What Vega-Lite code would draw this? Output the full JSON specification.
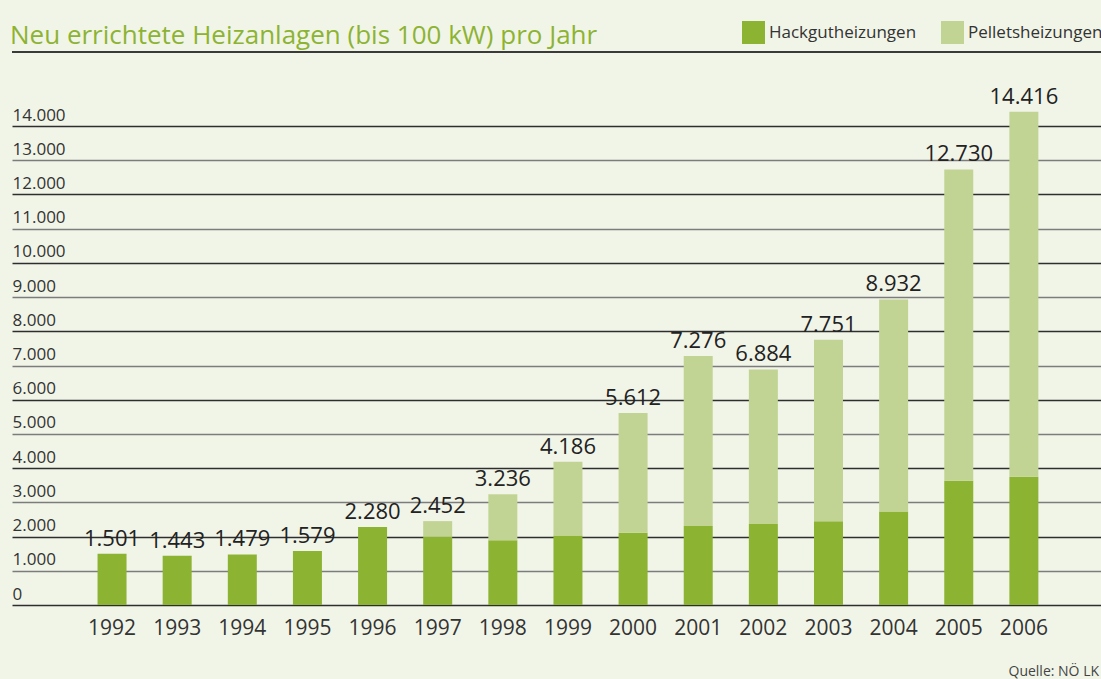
{
  "$schema": "https://vega.github.io/schema/vega-lite/v6.json",
  "autosize": {"type": "none"},
  "width": 1089,
  "height": 479,
  "padding": {"left": 12, "top": 126, "right": 0, "bottom": 74},
  "background": "#f1f5e8",
  "config": {
    "locale": {"number": {"decimal": ",", "thousands": ".", "grouping": [3], "currency": ["", " €"]}},
    "view": {"stroke": null},
    "font": "Open Sans"
  },
  "title": {
    "text": "Neu errichtete Heizanlagen (bis 100 kW) pro Jahr",
    "anchor": "start",
    "frame": "group",
    "font": "Open Sans",
    "fontSize": 26,
    "fontWeight": "normal",
    "color": "#8db333",
    "dx": -2,
    "dy": 38,
    "offset": 10
  },
  "resolve": {"scale": {"y": "shared"}, "axis": {"y": "independent"}},
  "data": {
    "values": [
      {"year": "1992", "type": "Hackgutheizungen", "value": 1501},
      {"year": "1993", "type": "Hackgutheizungen", "value": 1443},
      {"year": "1994", "type": "Hackgutheizungen", "value": 1479},
      {"year": "1995", "type": "Hackgutheizungen", "value": 1579},
      {"year": "1996", "type": "Hackgutheizungen", "value": 2280},
      {"year": "1997", "type": "Hackgutheizungen", "value": 2000},
      {"year": "1997", "type": "Pelletsheizungen", "value": 452},
      {"year": "1998", "type": "Hackgutheizungen", "value": 1890},
      {"year": "1998", "type": "Pelletsheizungen", "value": 1346},
      {"year": "1999", "type": "Hackgutheizungen", "value": 2030},
      {"year": "1999", "type": "Pelletsheizungen", "value": 2156},
      {"year": "2000", "type": "Hackgutheizungen", "value": 2110},
      {"year": "2000", "type": "Pelletsheizungen", "value": 3502},
      {"year": "2001", "type": "Hackgutheizungen", "value": 2310},
      {"year": "2001", "type": "Pelletsheizungen", "value": 4966},
      {"year": "2002", "type": "Hackgutheizungen", "value": 2370},
      {"year": "2002", "type": "Pelletsheizungen", "value": 4514},
      {"year": "2003", "type": "Hackgutheizungen", "value": 2450},
      {"year": "2003", "type": "Pelletsheizungen", "value": 5301},
      {"year": "2004", "type": "Hackgutheizungen", "value": 2730},
      {"year": "2004", "type": "Pelletsheizungen", "value": 6202},
      {"year": "2005", "type": "Hackgutheizungen", "value": 3630},
      {"year": "2005", "type": "Pelletsheizungen", "value": 9100},
      {"year": "2006", "type": "Hackgutheizungen", "value": 3750},
      {"year": "2006", "type": "Pelletsheizungen", "value": 10666}
    ]
  },
  "encoding": {
    "x": {
      "field": "year",
      "type": "ordinal",
      "scale": {"paddingInner": 0.28, "paddingOuter": 1, "align": 0.588},
      "axis": {
        "title": "Quelle: NÖ LK",
        "titleX": 996,
        "titleY": 70,
        "titleAlign": "left",
        "titleAnchor": null,
        "titleBaseline": "alphabetic",
        "titleFontSize": 14,
        "titleFontWeight": "normal",
        "titleColor": "#444444",
        "titleFont": "Open Sans",
        "labelFontSize": 21,
        "labelFont": "Open Sans",
        "labelColor": "#333333",
        "labelAngle": 0,
        "labelPadding": 12,
        "domain": false,
        "ticks": false,
        "grid": false
      }
    }
  },
  "layer": [
    {
      "mark": {"type": "rule", "color": "#3a3a3a", "strokeWidth": 1.5},
      "encoding": {"y": {"datum": 16170, "type": "quantitative", "axis": null}, "x": null}
    },
    {
      "mark": {"type": "bar", "width": 29},
      "encoding": {
        "y": {
          "field": "value",
          "type": "quantitative",
          "stack": "zero",
          "scale": {"domain": [0, 14000], "nice": false, "zero": true},
          "axis": {
            "title": null,
            "values": [0, 1000, 2000, 3000, 4000, 5000, 6000, 7000, 8000, 9000, 10000, 11000, 12000, 13000, 14000],
            "format": ",d",
            "domain": false,
            "ticks": false,
            "labelOverlap": false,
            "labelAlign": "left",
            "labelBaseline": "bottom",
            "labelPadding": 0,
            "labelOffset": -2,
            "labelFontSize": 17,
            "labelFont": "Open Sans",
            "labelColor": "#333333",
            "grid": true,
            "gridWidth": 1.5,
            "gridColor": {"condition": {"test": "datum.value % 2000 === 0", "value": "#2e2e2e"}, "value": "#7c7c7c"}
          }
        },
        "color": {
          "field": "type",
          "type": "nominal",
          "scale": {"domain": ["Hackgutheizungen", "Pelletsheizungen"], "range": ["#8db333", "#c2d494"]},
          "legend": {
            "orient": "none",
            "legendX": 730,
            "legendY": -105,
            "direction": "horizontal",
            "title": null,
            "symbolType": "square",
            "symbolSize": 529,
            "symbolStrokeWidth": 0,
            "labelFontSize": 17,
            "labelFont": "Open Sans",
            "labelColor": "#333333",
            "columnPadding": 24,
            "labelOffset": 4
          }
        },
        "order": {"field": "type", "sort": "ascending"}
      }
    },
    {
      "transform": [{"aggregate": [{"op": "sum", "field": "value", "as": "total"}], "groupby": ["year"]}],
      "mark": {"type": "text", "baseline": "bottom", "dy": -3, "fontSize": 22, "font": "Open Sans", "color": "#222222"},
      "encoding": {
        "y": {"field": "total", "type": "quantitative", "axis": null},
        "text": {"field": "total", "type": "quantitative", "format": ",d"}
      }
    }
  ]
}
